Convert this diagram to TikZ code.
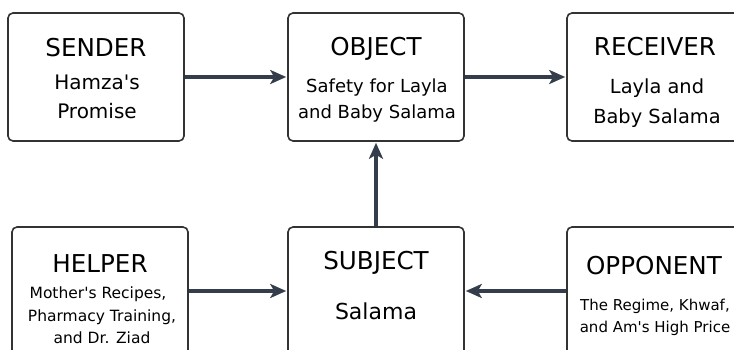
\documentclass[tikz,border=0pt]{standalone}
\usepackage{fontspec}
\setmainfont{DejaVu Sans}
\usetikzlibrary{positioning,arrows.meta}
\definecolor{boxline}{HTML}{333333}
\definecolor{arrowline}{HTML}{343D4B}

\begin{document}
\begin{tikzpicture}[x=1pt,y=1pt]
    \tikzstyle{actant}=[draw=boxline,line width=1.6,rounded corners=5,minimum width=176,minimum height=128,inner sep=0]
    \tikzstyle{title}=[inner sep=0,anchor=base,font=\fontsize{24.6}{28}\selectfont]
    \tikzset{role/.style={inner sep=0,anchor=base,font=\fontsize{#1}{#1}\selectfont}}
    \tikzstyle{link}=[draw=arrowline,line width=3.2,-{Stealth[length=16,width=14,inset=4]},shorten >=1]
    \useasboundingbox (0,0) rectangle (734,-350);
    {
        % top row
        \node[actant] (sender) at (96,-77) {};
        \node[title] (sender-t) at (96,-57) {SENDER};
        \node[role=20] (sender-a) at (97,-90) {Hamza\textquotesingle s};
        \node[role=20] (sender-b) at (97,-119) {Promise};

        \node[actant] (object) at (376,-77) {};
        \node[title] (object-t) at (376,-56) {OBJECT};
        \node[role=18] (object-a) at (377,-93) {Safety for Layla};
        \node[role=18] (object-b) at (377,-119) {and Baby Salama};

        \node[actant] (receiver) at (655,-77) {};
        \node[title] (receiver-t) at (655,-56) {RECEIVER};
        \node[role=19.4] (receiver-a) at (657,-94) {Layla and};
        \node[role=19.4] (receiver-b) at (657,-124) {Baby Salama};

        % bottom row
        \node[actant] (helper) at (100,-291) {};
        \node[title] (helper-t) at (100,-272) {HELPER};
        \node[role=15.5] (helper-a) at (98,-298) {Mother\textquotesingle s Recipes,};
        \node[role=15.5] (helper-b) at (102,-321) {Pharmacy Training,};
        \node[role=15.5] (helper-c) at (102,-343) {and Dr. Ziad};

        \node[actant] (subject) at (376,-291) {};
        \node[title] (subject-t) at (376,-269) {SUBJECT};
        \node[role=22] (subject-a) at (376,-319) {Salama};

        \node[actant] (opponent) at (655,-291) {};
        \node[title] (opponent-t) at (654,-274) {OPPONENT};
        \node[role=15] (opponent-a) at (655,-310) {The Regime, Khwaf,};
        \node[role=15] (opponent-b) at (655,-332) {and Am\textquotesingle s High Price};

        \path[link]
            (sender) edge (object)
            (object) edge (receiver)
            (subject) edge (object)
            (helper) edge (subject)
            (opponent) edge (subject);
    }
\end{tikzpicture}
\end{document}
